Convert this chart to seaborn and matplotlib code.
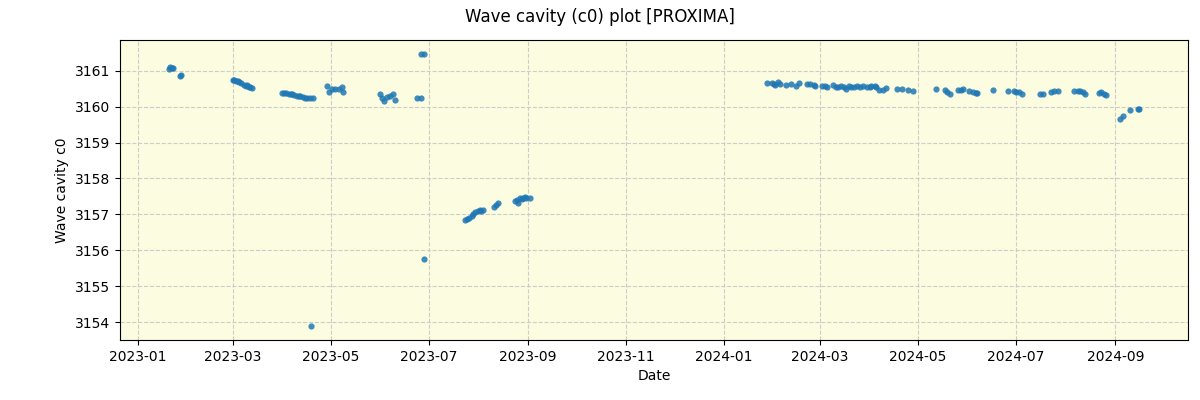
import matplotlib
matplotlib.use("Agg")
import matplotlib.pyplot as plt
import matplotlib.dates as mdates
import seaborn as sns
import pandas as pd

dates_2023 = [
    "2023-01-20", "2023-01-21", "2023-01-22", "2023-01-23", "2023-01-27", "2023-01-28",
    "2023-03-01", "2023-03-02", "2023-03-03", "2023-03-04", "2023-03-05", "2023-03-06",
    "2023-03-08", "2023-03-09", "2023-03-10", "2023-03-11", "2023-03-12", "2023-03-13",
    "2023-04-01", "2023-04-02", "2023-04-03", "2023-04-05", "2023-04-06", "2023-04-07",
    "2023-04-08", "2023-04-10", "2023-04-11", "2023-04-12", "2023-04-14", "2023-04-15",
    "2023-04-16", "2023-04-18", "2023-04-20", "2023-04-19",
    "2023-04-29", "2023-04-30", "2023-05-02", "2023-05-04", "2023-05-06", "2023-05-08", "2023-05-09",
    "2023-06-01", "2023-06-02", "2023-06-03", "2023-06-05", "2023-06-07", "2023-06-09", "2023-06-10",
    "2023-06-24", "2023-06-26", "2023-06-26", "2023-06-28", "2023-06-28",
    "2023-07-24", "2023-07-25", "2023-07-26", "2023-07-28", "2023-07-29", "2023-07-30",
    "2023-08-01", "2023-08-02", "2023-08-03", "2023-08-04",
    "2023-08-11", "2023-08-12", "2023-08-13", "2023-08-24", "2023-08-25", "2023-08-26",
    "2023-08-27", "2023-08-28", "2023-08-29", "2023-08-30", "2023-08-31", "2023-09-02",
]
values_2023 = [
    3161.05, 3161.10, 3161.08, 3161.07, 3160.86, 3160.89,
    3160.75, 3160.73, 3160.72, 3160.70, 3160.68, 3160.65,
    3160.60, 3160.58, 3160.60, 3160.55, 3160.55, 3160.52,
    3160.38, 3160.37, 3160.37, 3160.36, 3160.36, 3160.35,
    3160.32, 3160.30, 3160.29, 3160.28, 3160.26, 3160.25,
    3160.25, 3160.24, 3160.25, 3153.89,
    3160.58, 3160.41, 3160.49, 3160.49, 3160.49, 3160.53, 3160.41,
    3160.35, 3160.24, 3160.16, 3160.26, 3160.28, 3160.35, 3160.19,
    3160.24, 3160.24, 3161.47, 3161.47, 3155.76,
    3156.85, 3156.88, 3156.91, 3156.97, 3157.00, 3157.08,
    3157.10, 3157.12, 3157.09, 3157.12,
    3157.22, 3157.26, 3157.31, 3157.37, 3157.40, 3157.31,
    3157.47, 3157.44, 3157.47, 3157.48, 3157.47, 3157.47,
]

dates_2024 = [
    "2024-01-28", "2024-01-31", "2024-02-01", "2024-02-02", "2024-02-04", "2024-02-05",
    "2024-02-09", "2024-02-12", "2024-02-15", "2024-02-17", "2024-02-22", "2024-02-24",
    "2024-02-26", "2024-02-27", "2024-03-02", "2024-03-04", "2024-03-05", "2024-03-09",
    "2024-03-11", "2024-03-12", "2024-03-14", "2024-03-16", "2024-03-17", "2024-03-19",
    "2024-03-20", "2024-03-22", "2024-03-24", "2024-03-26", "2024-03-28", "2024-03-30",
    "2024-04-01", "2024-04-02", "2024-04-04", "2024-04-05", "2024-04-07", "2024-04-09",
    "2024-04-11", "2024-04-18", "2024-04-21", "2024-04-25", "2024-04-28",
    "2024-05-12", "2024-05-18", "2024-05-19", "2024-05-21", "2024-05-26", "2024-05-28",
    "2024-05-29", "2024-06-02", "2024-06-04", "2024-06-06", "2024-06-07", "2024-06-17",
    "2024-06-26", "2024-06-30", "2024-07-01", "2024-07-03", "2024-07-05",
    "2024-07-16", "2024-07-18", "2024-07-23", "2024-07-25", "2024-07-27",
    "2024-08-06", "2024-08-09", "2024-08-10", "2024-08-12", "2024-08-13",
    "2024-08-22", "2024-08-23", "2024-08-25", "2024-08-26",
    "2024-09-04", "2024-09-06", "2024-09-10", "2024-09-15", "2024-09-16",
]
values_2024 = [
    3160.66, 3160.66, 3160.63, 3160.61, 3160.67, 3160.63,
    3160.60, 3160.63, 3160.56, 3160.64, 3160.63, 3160.63,
    3160.59, 3160.57, 3160.56, 3160.56, 3160.55, 3160.59,
    3160.55, 3160.55, 3160.56, 3160.53, 3160.49, 3160.57,
    3160.55, 3160.53, 3160.56, 3160.55, 3160.56, 3160.55,
    3160.55, 3160.56, 3160.58, 3160.55, 3160.47, 3160.47,
    3160.52, 3160.49, 3160.49, 3160.46, 3160.42,
    3160.49, 3160.45, 3160.41, 3160.35, 3160.45, 3160.47,
    3160.49, 3160.42, 3160.41, 3160.38, 3160.38, 3160.47,
    3160.43, 3160.44, 3160.41, 3160.41, 3160.35,
    3160.35, 3160.35, 3160.41, 3160.42, 3160.42,
    3160.44, 3160.44, 3160.42, 3160.41, 3160.35,
    3160.38, 3160.41, 3160.35, 3160.31,
    3159.65, 3159.73, 3159.90, 3159.93, 3159.93,
]

df = pd.DataFrame({
    "Date": pd.to_datetime(dates_2023 + dates_2024),
    "Wave cavity c0": values_2023 + values_2024,
})

fig, ax = plt.subplots(figsize=(12, 4), dpi=100)
fig.subplots_adjust(left=0.1, right=0.99, top=0.9, bottom=0.15)
ax.set_facecolor("#fcfce0")
sns.scatterplot(data=df, x="Date", y="Wave cavity c0", ax=ax,
                color="#1f77b4", s=20, alpha=0.85, linewidth=0, zorder=3)
ax.grid(True, linestyle="--", color="#cccccc", linewidth=0.8, zorder=0)
ax.set_axisbelow(True)
ax.xaxis.set_major_locator(mdates.MonthLocator(bymonth=[1, 3, 5, 7, 9, 11]))
ax.xaxis.set_major_formatter(mdates.DateFormatter("%Y-%m"))
ax.ticklabel_format(axis="y", useOffset=False)
ax.set_xlabel("Date")
ax.set_ylabel("Wave cavity c0")
fig.suptitle("Wave cavity (c0) plot [PROXIMA]", fontsize=12)
fig.savefig("out.png", dpi=100)
